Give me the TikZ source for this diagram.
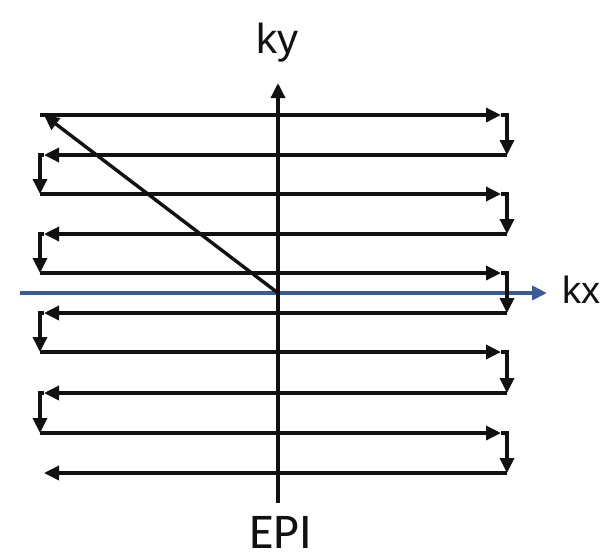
\documentclass[tikz,border=0pt]{standalone}
\usepackage{fontspec}
\setmainfont{Liberation Sans}
\newfontfamily\epifont{Carlito}
\usetikzlibrary{arrows.meta}
\definecolor{epInk}{HTML}{111111}
\definecolor{epBlue}{HTML}{3C5A99}
\tikzset{
 kspace/.style={line cap=butt,line join=miter,text=epInk},
 trace/.style={draw=epInk,line width=1.7pt,-{Triangle[length=7.5pt,width=7pt]}},
 kyaxis/.style={draw=epInk,line width=1.7pt,-{Triangle[length=7.5pt,width=7pt]}},
 kxaxis/.style={draw=epBlue,line width=1.9pt,-{Triangle[length=7.5pt,width=7pt]}},
 axlabel/.style={inner sep=0pt},
 title/.style={font=\epifont\fontsize{25}{27}\selectfont,inner sep=0pt}
}
\begin{document}
\begin{tikzpicture}[kspace,x=.5pt,y=-.5pt]
 \useasboundingbox (0,0) rectangle (610,559);
 % sampled lines of k-space, top to bottom
 \foreach \y [count=\i] in {115,155,194,234,273,313,352,393,433,473}{
   \coordinate (l\i) at (44,\y); \coordinate (lc\i) at (40,\y);
   \coordinate (r\i) at (501,\y); \coordinate (rc\i) at (507,\y);}
 \coordinate (o) at (278,293);
 \coordinate (kxs) at (20,293); \coordinate (kxe) at (547,293);
 \coordinate (kys) at (278,503); \coordinate (kye) at (278,83);
 \draw[kxaxis] (kxs) -- (kxe);
 \draw[kyaxis] (kys) -- (kye);
 \node[axlabel,font=\fontsize{21}{23}\selectfont,anchor=base] (ky) at (277,53) {ky};
 \node[axlabel,font=\fontsize{19}{21}\selectfont,anchor=base west] (kx) at (562,303) {kx};
 % blip to the corner, then the zig-zag readout
 \draw[trace] (o) -- (l1);
 \foreach \i/\j in {1/2,3/4,5/6,7/8,9/10}{
   \draw[trace] (lc\i) -- (r\i);
   \draw[trace] (r\i) -- (rc\i) -- (rc\j);
   \draw[trace] (rc\j) -- (l\j);}
 \foreach \i/\j in {2/3,4/5,6/7,8/9}
   \draw[trace] (l\i) -- (lc\i) -- (lc\j);
 \node[title,anchor=base] (epi) at (281,548) {EPI};
\end{tikzpicture}
\end{document}
